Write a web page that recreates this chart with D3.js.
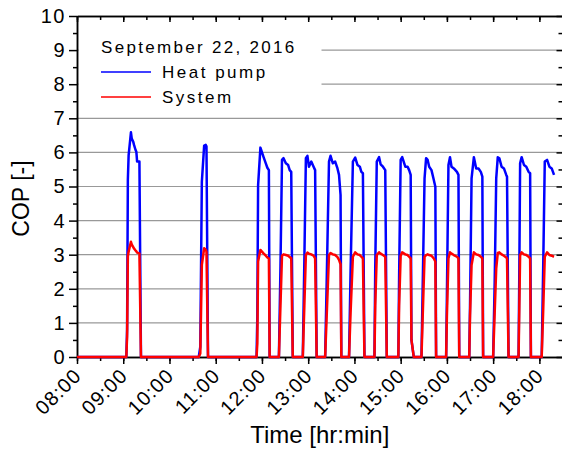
<!DOCTYPE html>
<html>
<head>
<meta charset="utf-8">
<script src="https://cdn.jsdelivr.net/npm/d3@7"></script>
<style>
    body { margin: 0; background: #fff; }
    svg text { font-family: "Liberation Sans", Arial, sans-serif; fill: #000; }
</style>
</head>
<body>
<div id="chart"></div>
<script>

const timeStamps = [
    "08:00", "09:04", "09:05", "09:06", "09:07", "09:10", "09:11", "09:13", "09:14", "09:16", "09:17", "09:18", "09:21", "09:23",
    "10:38", "10:40", "10:42", "10:45", "10:47", "10:48", "10:50",
    "11:53", "11:54", "11:55", "11:58", "12:02", "12:05", "12:07", "12:09", "12:10",
    "12:22", "12:24", "12:26", "12:28", "12:31", "12:34", "12:36", "12:38", "12:40",
    "12:53", "12:55", "12:57", "12:59", "13:01", "13:04", "13:07", "13:09", "13:11",
    "13:22", "13:24", "13:27", "13:29", "13:32", "13:35", "13:38", "13:40", "13:42", "13:43",
    "13:53", "13:55", "13:58", "14:01", "14:04", "14:07", "14:09", "14:11", "14:13",
    "14:26", "14:27", "14:29", "14:32", "14:34", "14:37", "14:40", "14:42",
    "14:57", "14:58", "15:00", "15:02", "15:06", "15:09", "15:11", "15:13", "15:14", "15:17",
    "15:27", "15:29", "15:31", "15:33", "15:35", "15:37", "15:40", "15:43", "15:45", "15:46",
    "15:59", "16:00", "16:02", "16:04", "16:06", "16:09", "16:13", "16:15", "16:16",
    "16:29", "16:30", "16:32", "16:35", "16:38", "16:41", "16:44", "16:46", "16:47",
    "17:00", "17:02", "17:04", "17:06", "17:08", "17:11", "17:14", "17:17", "17:18", "17:20",
    "17:33", "17:34", "17:35", "17:37", "17:40", "17:43", "17:46", "17:48", "17:49",
    "18:03", "18:05", "18:07", "18:10", "18:13", "18:16", "18:19"
];

const heatPumpCOP = [
    0, 0, 0.8, 5.20, 5.92, 6.59, 6.41, 6.31, 6.22, 6.07, 6.02, 5.73, 5.73, 0,
    0, 0.3, 5.14, 6.20, 6.22, 6.18, 0,
    0, 1.2, 5.04, 6.14, 5.87, 5.68, 5.55, 5.48, 0,
    0, 2.6, 5.78, 5.83, 5.68, 5.63, 5.48, 5.43, 0,
    0, 2.8, 5.83, 5.90, 5.58, 5.73, 5.58, 5.48, 0,
    0, 2.2, 5.73, 5.90, 5.68, 5.73, 5.53, 5.34, 4.75, 0,
    0, 2.5, 5.73, 5.85, 5.63, 5.58, 5.43, 5.39, 0,
    0, 2.6, 5.73, 5.86, 5.65, 5.58, 5.48, 0,
    0, 2.4, 5.78, 5.86, 5.58, 5.58, 5.48, 5.34, 0.5, 0,
    0, 2.6, 5.24, 5.83, 5.78, 5.58, 5.48, 5.19, 4.99, 0,
    0, 1.8, 5.63, 5.86, 5.58, 5.53, 5.43, 5.34, 0,
    0, 1.5, 5.24, 5.86, 5.53, 5.53, 5.43, 5.29, 0,
    0, 2.2, 5.24, 5.86, 5.83, 5.58, 5.53, 5.34, 5.29, 0,
    0, 2.6, 5.68, 5.86, 5.63, 5.58, 5.43, 5.39, 0,
    0, 2.7, 5.73, 5.78, 5.58, 5.53, 5.34
];

const systemCOP = [
    0, 0, 0.6, 2.95, 3.09, 3.38, 3.30, 3.22, 3.18, 3.12, 3.10, 3.06, 3.04, 0,
    0, 0.1, 2.70, 3.19, 3.15, 3.09, 0,
    0, 0.4, 2.80, 3.14, 3.04, 2.97, 2.92, 2.89, 0,
    0, 1.5, 2.97, 3.01, 2.99, 2.97, 2.93, 2.90, 0,
    0, 1.5, 2.99, 3.06, 3.03, 3.01, 2.97, 2.89, 0,
    0, 1.2, 2.99, 3.05, 3.01, 2.99, 2.93, 2.85, 2.72, 0,
    0, 1.3, 2.94, 3.07, 3.01, 2.99, 2.94, 2.89, 0,
    0, 1.5, 2.99, 3.07, 3.03, 2.99, 2.94, 0,
    0, 1.5, 2.97, 3.07, 3.01, 2.99, 2.94, 2.89, 0.5, 0,
    0, 1.5, 2.94, 2.99, 3.01, 2.99, 2.97, 2.89, 2.80, 0,
    0, 1.2, 2.89, 3.07, 3.03, 2.99, 2.94, 2.89, 0,
    0, 1.2, 2.70, 3.07, 3.01, 2.99, 2.94, 2.89, 0,
    0, 1.3, 2.60, 3.05, 3.07, 3.01, 2.97, 2.92, 2.89, 0,
    0, 1.5, 2.99, 3.07, 3.01, 2.99, 2.94, 2.89, 0,
    0, 1.4, 2.94, 3.07, 2.99, 2.97, 2.94
];

const xDomain = ["08:00", "18:30"];
const xTickLabels = ["08:00", "09:00", "10:00", "11:00", "12:00", "13:00", "14:00", "15:00", "16:00", "17:00", "18:00"];
const yTickValues = [0, 1, 2, 3, 4, 5, 6, 7, 8, 9, 10];
const legendTitle = "September 22, 2016";
const seriesNames = ["Heat pump", "System"];
const seriesColors = ["#0000ff", "#ff0000"];

let parseTime = d3.timeParse("%H:%M");

let margin = {top: 16, right: 0, bottom: 94, left: 77};
let width = 485.5;
let height = 341;

let svg = d3.select("#chart").append("svg")
    .attr("width", 562)
    .attr("height", 451)
    .append("g")
    .attr("transform", `translate(${margin.left}, ${margin.top})`);

let x = d3.scaleTime()
    .domain(xDomain.map(parseTime))
    .range([0, width]);

let y = d3.scaleLinear()
    .domain([0, 10])
    .range([height, 0]);

// half hour and half unit minor ticks
let xMinor = d3.timeMinute.every(30).range(x.domain()[0], x.domain()[1]);
let yMinor = y.ticks(20).filter(v => v % 1 !== 0);

// horizontal grid
svg.append("g")
    .selectAll("line")
    .data(yTickValues.filter(v => v > 0 && v < 10))
    .enter()
    .append("line")
    .attr("x1", 0)
    .attr("x2", width)
    .attr("y1", d => y(d))
    .attr("y2", d => y(d))
    .attr("stroke", "#999")
    .attr("stroke-width", 1.2);

// legend background hides the grid behind it
svg.append("rect")
    .attr("x", 1.5)
    .attr("y", 1)
    .attr("width", 243)
    .attr("height", 91)
    .attr("fill", "#fff");

function styleAxis(g) {
    g.select(".domain").attr("stroke", "#000").attr("stroke-width", 1.5);
    g.selectAll(".tick line").attr("stroke", "#000").attr("stroke-width", 1.5);
}

// bottom axis
let xAxis = svg.append("g")
    .attr("transform", `translate(0, ${height})`)
    .call(d3.axisBottom(x).tickValues(xTickLabels.map(parseTime)).tickFormat(d3.timeFormat("%H:%M")).tickSize(7).tickSizeOuter(0))
    .call(styleAxis);

xAxis.selectAll("text")
    .attr("x", 0)
    .attr("y", 0)
    .attr("dy", 0)
    .attr("text-anchor", "end")
    .attr("transform", "translate(5, 20) rotate(-45)")
    .style("font-size", "20px")
    .style("letter-spacing", "1px");

svg.append("g")
    .attr("transform", `translate(0, ${height})`)
    .call(d3.axisBottom(x).tickValues(xMinor).tickFormat("").tickSize(4).tickSizeOuter(0))
    .call(styleAxis);

// top axis, ticks inside
svg.append("g")
    .call(d3.axisTop(x).tickValues(xTickLabels.map(parseTime)).tickFormat("").tickSize(-6).tickSizeOuter(0))
    .call(styleAxis);
svg.append("g")
    .call(d3.axisTop(x).tickValues(xMinor).tickFormat("").tickSize(-4).tickSizeOuter(0))
    .call(styleAxis);

// left axis
svg.append("g")
    .call(d3.axisLeft(y).tickValues(yTickValues).tickSize(8).tickPadding(3).tickSizeOuter(0))
    .call(styleAxis)
    .selectAll("text")
    .style("font-size", "20px")
    .style("letter-spacing", "1.5px");

svg.append("g")
    .call(d3.axisLeft(y).tickValues(yMinor).tickFormat("").tickSize(4).tickSizeOuter(0))
    .call(styleAxis);

// right axis, ticks inside
svg.append("g")
    .attr("transform", `translate(${width}, 0)`)
    .call(d3.axisRight(y).tickValues(yTickValues).tickFormat("").tickSize(-6).tickSizeOuter(0))
    .call(styleAxis);
svg.append("g")
    .attr("transform", `translate(${width}, 0)`)
    .call(d3.axisRight(y).tickValues(yMinor).tickFormat("").tickSize(-4).tickSizeOuter(0))
    .call(styleAxis);

// axis titles
svg.append("text")
    .attr("transform", `translate(-48, ${height / 2 + 12}) rotate(-90)`)
    .attr("text-anchor", "middle")
    .style("font-size", "23px")
    .text("COP [-]");

svg.append("text")
    .attr("x", width / 2)
    .attr("y", height + 86)
    .attr("text-anchor", "middle")
    .style("font-size", "24px")
    .text("Time [hr:min]");

// data lines
let series = [heatPumpCOP, systemCOP].map((vals, i) => ({
    name: seriesNames[i],
    color: seriesColors[i],
    values: timeStamps.map((t, j) => ({time: parseTime(t), cop: vals[j]}))
}));

let line = d3.line()
    .x(d => x(d.time))
    .y(d => y(d.cop));

svg.selectAll(".series")
    .data(series)
    .enter()
    .append("path")
    .attr("class", "series")
    .attr("fill", "none")
    .attr("stroke", d => d.color)
    .attr("stroke-width", 2.5)
    .attr("stroke-linejoin", "round")
    .attr("d", d => line(d.values));

// legend
let legend = svg.append("g")
    .attr("transform", "translate(24, 0)");

legend.append("text")
    .attr("x", 0)
    .attr("y", 37)
    .style("font-size", "17px")
    .style("letter-spacing", "2.3px")
    .text(legendTitle);

let items = legend.selectAll(".item")
    .data(series)
    .enter()
    .append("g")
    .attr("class", "item")
    .attr("transform", (d, i) => `translate(0, ${62 + i * 25})`);

items.append("line")
    .attr("x1", 0)
    .attr("x2", 50)
    .attr("y1", -6)
    .attr("y2", -6)
    .attr("stroke", d => d.color)
    .attr("stroke-width", 1.5);

items.append("text")
    .attr("x", 61)
    .attr("y", 0)
    .style("font-size", "17px")
    .style("letter-spacing", "2.5px")
    .text(d => d.name);

</script>
</body>
</html>
